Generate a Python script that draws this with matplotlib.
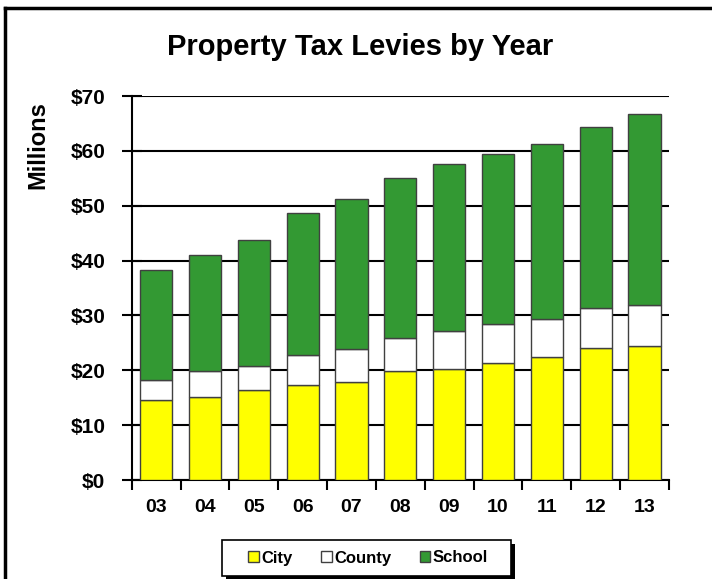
import matplotlib
matplotlib.use("Agg")
import matplotlib.pyplot as plt
from matplotlib.lines import Line2D
from matplotlib.patches import Rectangle
import numpy as np

years = ["03", "04", "05", "06", "07", "08", "09", "10", "11", "12", "13"]
city = [14.6, 15.2, 16.4, 17.3, 17.9, 19.9, 20.2, 21.3, 22.4, 24.0, 24.4]
county_top = [18.2, 19.9, 20.7, 22.7, 23.8, 25.8, 27.1, 28.5, 29.4, 31.3, 31.9]
total = [38.3, 41.0, 43.7, 48.7, 51.2, 55.1, 57.6, 59.4, 61.2, 64.3, 66.7]
county = [c - a for a, c in zip(city, county_top)]
school = [t - c for c, t in zip(county_top, total)]
yticks = [0, 10, 20, 30, 40, 50, 60, 70]
ylabels = ["$0", "$10", "$20", "$30", "$40", "$50", "$60", "$70"]

plt.rcParams['font.family'] = ['Liberation Sans', 'DejaVu Sans']
plt.rcParams['font.weight'] = 'bold'

fig = plt.figure(figsize=(7.12, 5.79), dpi=100)
ax = fig.add_axes([131.7/712, 1-480/579, (669-131.7)/712, 384/579])

x = np.arange(len(years))
w = 0.66
ec = '#404040'
ax.bar(x, city, w, color='#FFFF00', edgecolor=ec, linewidth=1, zorder=3, label='City')
ax.bar(x, county, w, bottom=city, color='white', edgecolor=ec, linewidth=1, zorder=3, label='County')
ax.bar(x, school, w, bottom=county_top, color='#339933', edgecolor=ec, linewidth=1, zorder=3, label='School')

ax.set_xlim(-0.5, len(years) - 0.5)
ax.set_ylim(0, 70)
ax.set_yticks(yticks)
ax.set_yticklabels(ylabels, fontsize=15, fontweight='bold')
ax.yaxis.grid(True, color='black', linewidth=1.5, zorder=0)
ax.set_axisbelow(True)
ax.tick_params(axis='y', direction='inout', length=14, width=1.5, pad=12)

ax.set_xticks(x)
ax.set_xticklabels(years, fontsize=14, fontweight='bold')
ax.set_xticks(np.arange(-0.5, len(years)), minor=True)
ax.tick_params(axis='x', which='major', length=0, pad=14)
ax.tick_params(axis='x', which='minor', direction='out', length=7, width=1.5)

for s in ['top', 'right']:
    ax.spines[s].set_visible(False)
for s in ['left', 'bottom']:
    ax.spines[s].set_linewidth(1.5)

fig.text(38/712, 1-145/579, "Millions", rotation=90, ha='center', va='center',
         fontsize=17, fontweight='bold')

fig.text(360/712, 1-47/579, "Property Tax Levies by Year", ha='center', va='center',
         fontsize=21, fontweight='bold')

# legend box with shadow (drawn manually)
lx0, lx1, ly0, ly1 = 222, 511, 540, 576
fig.add_artist(Rectangle(((lx0+4)/712, 1-(ly1+4)/579), (lx1-lx0)/712, (ly1-ly0)/579,
                         transform=fig.transFigure, facecolor='black', edgecolor='none', zorder=4))
fig.add_artist(Rectangle((lx0/712, 1-ly1/579), (lx1-lx0)/712, (ly1-ly0)/579,
                         transform=fig.transFigure, facecolor='white', edgecolor='black',
                         linewidth=1.2, zorder=5))
handles = [Rectangle((0, 0), 1, 1, facecolor=c, edgecolor=ec, linewidth=1)
           for c in ['#FFFF00', 'white', '#339933']]
leg = fig.legend(handles, ['City', 'County', 'School'], loc='center',
                 bbox_to_anchor=(368/712, 1-558/579), ncol=3, frameon=False,
                 fontsize=12, handlelength=0.65, handleheight=0.65, handletextpad=0.15,
                 columnspacing=1.7, borderpad=0.3)
leg.set_zorder(6)

# outer frame (top and left)
fig.add_artist(Line2D([5/712, 1], [1-8/579, 1-8/579], color='black', linewidth=2.5,
                      transform=fig.transFigure))
fig.add_artist(Line2D([5/712, 5/712], [0, 1-8/579], color='black', linewidth=2.5,
                      transform=fig.transFigure))

fig.savefig("out.png", dpi=100)
